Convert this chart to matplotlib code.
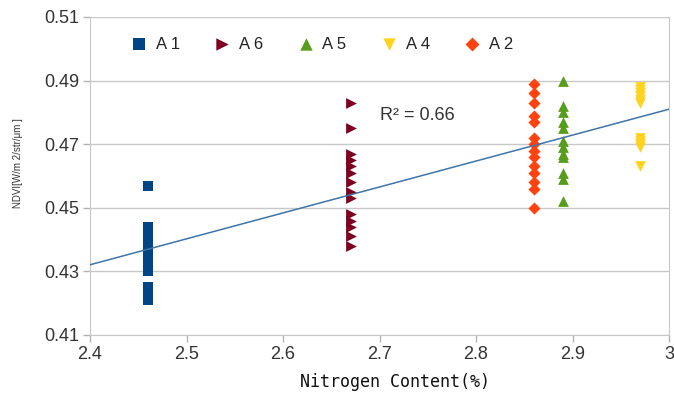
import numpy as np
import matplotlib
matplotlib.use("Agg")
import matplotlib.pyplot as plt

plt.rcParams['font.family'] = ['Liberation Sans', 'DejaVu Sans']

# nitrogen content per plot and NDVI readings
labels = ["A 1", "A 6", "A 5", "A 4", "A 2"]
n_content = [2.46, 2.67, 2.89, 2.97, 2.86]
ndvi_a1 = [0.457, 0.444, 0.442, 0.440, 0.438, 0.436, 0.434, 0.432, 0.430, 0.425, 0.423, 0.421]
ndvi_a6 = [0.483, 0.475, 0.467, 0.465, 0.463, 0.461, 0.458, 0.455, 0.453, 0.448, 0.446, 0.444, 0.441, 0.438]
ndvi_a5 = [0.490, 0.482, 0.480, 0.477, 0.475, 0.471, 0.469, 0.467, 0.466, 0.461, 0.459, 0.452]
ndvi_a4 = [0.488, 0.487, 0.486, 0.485, 0.484, 0.483, 0.472, 0.471, 0.470, 0.469, 0.463]
ndvi_a2 = [0.489, 0.486, 0.483, 0.479, 0.477, 0.472, 0.470, 0.468, 0.466, 0.463, 0.461, 0.458, 0.456, 0.450]
series = [ndvi_a1, ndvi_a6, ndvi_a5, ndvi_a4, ndvi_a2]

colors = ["#004586", "#7e0021", "#579d1c", "#ffd320", "#ff420e"]
markers = ["s", ">", "^", "v", "D"]
sizes = [52, 60, 60, 60, 38]

fig = plt.figure(figsize=(6.74, 3.99), dpi=100)
ax = fig.add_axes([90/674, 1-335/399, 579/674, 318/399])

for lab, x, ys, c, m, s in zip(labels, n_content, series, colors, markers, sizes):
    ax.scatter([x]*len(ys), ys, marker=m, s=s, color=c, label=lab, linewidths=0, zorder=3)

# linear trend over all points
xs = np.concatenate([[x]*len(ys) for x, ys in zip(n_content, series)])
ys_all = np.concatenate(series)
k, b = np.polyfit(xs, ys_all, 1)
xl = np.array([2.4, 3.0])
ax.plot(xl, k*xl + b, color="#3f74a8", lw=1.1, zorder=4)
ax.text(2.70, 0.479, "R² = 0.66", fontsize=13, color="#333333", va="center")

ax.set_xlim(2.4, 3.0)
ax.set_ylim(0.41, 0.51)
ax.set_xticks(np.arange(2.4, 3.01, 0.1))
ax.set_xticklabels(["2.4", "2.5", "2.6", "2.7", "2.8", "2.9", "3"])
ax.set_yticks(np.arange(0.41, 0.511, 0.02))
ax.set_yticklabels(["0.41", "0.43", "0.45", "0.47", "0.49", "0.51"])
ax.tick_params(labelsize=13, colors="#b3b3b3", labelcolor="#333333", length=5, width=1, pad=3)
ax.yaxis.grid(True, color="#c8c8c8", lw=1)
ax.set_axisbelow(True)
for sp in ax.spines.values():
    sp.set_color("#c8c8c8")
ax.spines['top'].set_visible(False)

ax.set_xlabel("Nitrogen Content(%)", family="DejaVu Sans Mono", fontsize=12, color="#111111")
ax.xaxis.set_label_coords(0.527, -0.12)
ax.set_ylabel("NDVI[W/m 2/str/μm ]", fontsize=7, color="#333333")
ax.yaxis.set_label_coords(-0.115, 0.54)

ax.legend(loc="upper left", ncol=5, frameon=False, fontsize=12, handletextpad=0.0,
          columnspacing=1.55, markerscale=1.15, bbox_to_anchor=(0.03, 0.985),
          labelcolor="#222222")

fig.savefig("out.png", dpi=100)
